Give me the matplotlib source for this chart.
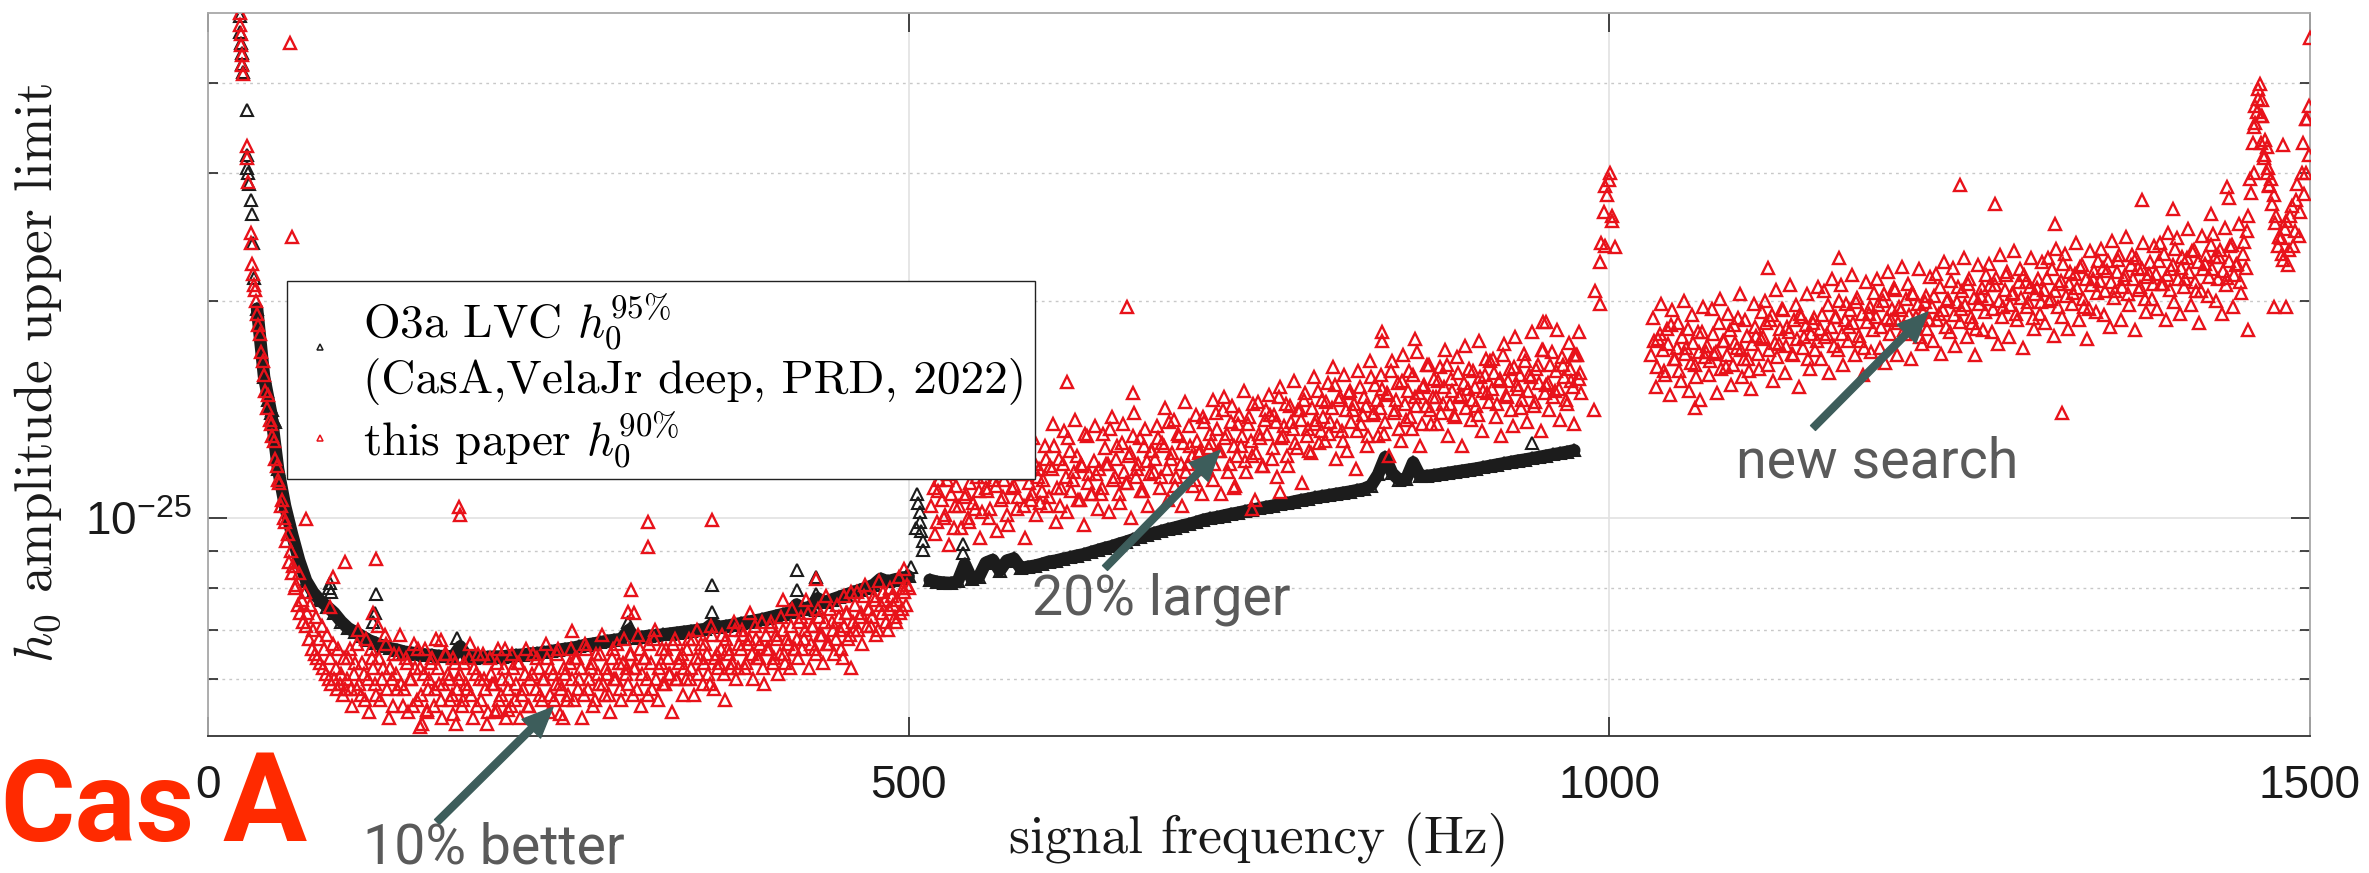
import numpy as np
import matplotlib
matplotlib.use("Agg")
import matplotlib.pyplot as plt
from matplotlib.lines import Line2D
from matplotlib.ticker import FixedLocator, FixedFormatter, NullFormatter

plt.rcParams["font.family"] = ["Liberation Sans", "DejaVu Sans"]
plt.rcParams["mathtext.fontset"] = "custom"
plt.rcParams["mathtext.rm"] = "Liberation Sans"
plt.rcParams["mathtext.it"] = "Liberation Sans:italic"
plt.rcParams["mathtext.bf"] = "Liberation Sans:bold"

# all strain values below are in units of 1e-27
UNIT = 1e-27

# ---- O3a LVC h0^95% (black), read every 5 Hz; gap 500-515 Hz ----
lvc_lo_f0 = 35
lvc_lo = [195, 157, 140, 117, 104, 95, 87.5, 82, 79, 77,
          75.5, 74, 72, 70.5, 69.6, 68.7, 67.8, 67.2, 66.6, 66.1,
          65.8, 65.4, 65.2, 65.0, 64.8, 64.7, 64.5, 64.5, 64.4, 66.5,
          64.3, 64.2, 64.3, 64.3, 64.4, 64.4, 64.6, 64.7, 64.8, 65.0,
          65.1, 65.3, 65.5, 65.8, 66.0, 66.2, 66.5, 66.9, 67.1, 67.4,
          67.7, 67.9, 68.1, 70.0, 68.4, 68.6, 68.8, 68.9, 69.1, 69.3,
          69.5, 69.7, 69.9, 70.1, 70.3, 71.5, 70.8, 71.0, 71.3, 71.6,
          71.9, 72.2, 72.5, 72.9, 73.3, 73.7, 74.1, 76.0, 75.0, 75.5,
          77.5, 76.6, 77.2, 77.8, 78.4, 79.0, 79.6, 80.2, 80.9, 82.5,
          81.8, 82.3, 82.7, 83.1]
lvc_hi_f0 = 515
lvc_hi = [82.2, 81.7, 81.5, 81.4, 81.8, 86.5, 82.4, 82.9, 86.8, 87.6,
          84.6, 87.4, 88.0, 85.3, 85.7, 86.0, 86.5, 87.1, 87.4, 87.9,
          88.3, 88.8, 89.2, 89.8, 90.4, 91.0, 91.5, 92.2, 92.8, 93.5,
          94.1, 94.8, 95.4, 96.0, 96.6, 97.1, 97.7, 98.2, 98.8, 99.5,
          100.0, 100.4, 100.9, 101.4, 101.8, 102.3, 102.8, 103.2, 103.7, 104.1,
          104.6, 105.0, 105.5, 106.0, 106.4, 106.9, 107.3, 107.7, 108.1, 108.5,
          108.9, 109.4, 109.9, 111.0, 115.0, 121.5, 115.5, 113.0, 113.3, 119.5,
          114.3, 114.5, 114.8, 115.2, 115.6, 116.0, 116.4, 116.8, 117.2, 117.7,
          118.2, 118.7, 119.2, 119.7, 120.2, 120.6, 121.1, 121.6, 122.1, 122.6,
          123.1, 123.6, 124.2]
# isolated O3a points: low-frequency wall and narrow lines
lvc_pts_f = [22.5, 23, 23.5, 24, 24.5, 25, 27.6, 27.8, 28, 28.5, 29, 31, 31.5, 32, 33,
             42, 43, 44, 46, 47, 48, 86, 87, 88, 118, 119, 120, 178, 300, 301,
             359.5, 359.5, 420, 420, 420, 434, 434, 434, 502, 505, 506, 507, 508,
             508, 509, 510, 510, 539, 539, 539, 945]
lvc_pts_h = [495, 470, 455, 440, 425, 415, 367, 318, 305, 300, 290, 276, 264, 240, 215,
             150, 146, 143, 141, 137, 136, 80, 81.5, 79, 72, 74, 78.5, 68.4, 72, 70.6,
             80.8, 74.2, 84.7, 79.5, 74.6, 82.9, 78.7, 74.6, 85.6, 97, 108, 105, 102,
             99, 96, 93, 90.5, 92.3, 89.5, 86, 127]

# ---- this paper h0^90% (red) ----
# 35-99 Hz, every 1 Hz
ul_a_f0 = 35
ul_a = [192, 185, 180, 170, 165, 158, 150, 142, 148, 137, 135, 130, 128, 121, 118, 113,
        112, 104, 106, 100, 99, 93, 95, 87, 90, 84, 86, 80, 81, 76, 84, 74, 77, 72, 79,
        71, 74, 68, 76, 66, 70, 65, 73, 64, 68, 63, 71, 62, 66, 61, 69, 60, 64, 59, 67,
        60, 62, 58, 66, 59, 61, 57, 64, 58, 60]
# 100-499 Hz, even and odd bins
ul_b_f0 = 100
ul_b = [64, 58, 61, 67, 59, 63, 56, 60, 66, 62, 57, 64, 60, 69, 58, 62, 55, 61, 65, 59,
        58, 63, 60, 55, 62, 66, 57, 61, 54, 60, 64, 58, 62, 56, 59, 65, 60, 57, 63, 58,
        61, 56, 59, 64, 57, 62, 55, 60, 65, 58, 54, 61, 59, 63, 56, 60, 66, 58, 55, 62,
        59, 63, 57, 61, 55, 60, 65, 58, 62, 56, 60, 64, 57, 61, 59, 66, 58, 62, 56, 63,
        60, 64, 58, 62, 57, 66, 60, 63, 56, 61, 65, 59, 62, 57, 64, 60, 67, 58, 63, 61,
        59, 65, 62, 58, 66, 61, 64, 57, 63, 68, 60, 62, 66, 59, 64, 61, 67, 60, 63, 65,
        62, 66, 60, 68, 64, 61, 67, 63, 65, 59, 69, 64, 62, 66, 61, 68, 65, 63, 70, 62,
        66, 69, 63, 68, 65, 71, 64, 67, 62, 69, 66, 72, 64, 68, 65, 70, 63, 67, 71, 66,
        68, 72, 66, 70, 74, 67, 71, 65, 73, 69, 72, 67, 75, 70, 68, 73, 66, 71, 74, 69,
        72, 76, 70, 74, 78, 71, 75, 73, 77, 70, 76, 79, 72, 75, 78, 73, 77, 74, 80, 76]
ul_b2_f0 = 101
ul_b2 = [66, 55, 63, 70, 57, 61, 68, 54, 64, 59, 71, 56, 62, 67, 53, 60, 65, 58, 69, 55,
         64, 54, 60, 67, 56, 62, 52, 66, 58, 63, 55, 68, 59, 53, 65, 61, 56, 64, 52, 60,
         55, 63, 58, 67, 53, 61, 65, 56, 60, 52, 64, 59, 54, 66, 57, 62, 53, 60, 65, 56,
         63, 53, 58, 66, 55, 61, 52, 64, 57, 60, 67, 54, 62, 56, 65, 59, 53, 61, 57, 66,
         56, 64, 60, 53, 67, 58, 62, 55, 65, 59, 69, 57, 61, 54, 66, 60, 63, 56, 68, 62,
         65, 57, 62, 69, 55, 64, 60, 67, 58, 70, 56, 63, 59, 66, 61, 54, 68, 60, 64, 57,
         60, 68, 62, 57, 70, 64, 59, 67, 61, 71, 58, 65, 63, 69, 56, 66, 62, 72, 60, 67,
         70, 62, 67, 74, 60, 68, 64, 72, 59, 66, 71, 63, 69, 61, 73, 65, 68, 62, 75, 66,
         64, 73, 68, 77, 62, 71, 66, 75, 69, 63, 78, 67, 72, 65, 76, 70, 64, 74, 68, 79,
         70, 79, 73, 67, 81, 75, 71, 78, 69, 82, 74, 77, 70, 80, 76, 72, 83, 75, 79, 81]
# 516-980 Hz, even and odd bins
ul_c_f0 = 516
ul_c = [104, 110, 99, 113, 106, 101, 115, 108, 97, 111, 104, 117, 107, 100, 112, 105, 118, 109, 102, 114,
        109, 103, 117, 111, 120, 106, 113, 101, 118, 110, 124, 107, 115, 104, 121, 112, 108, 119, 114, 105,
        113, 121, 107, 117, 126, 110, 104, 119, 114, 129, 109, 116, 122, 106, 118, 131, 112, 108, 120, 115,
        117, 110, 125, 119, 133, 113, 121, 108, 127, 116, 112, 123, 130, 114, 119, 109, 126, 120, 115, 124,
        121, 129, 114, 126, 117, 136, 123, 111, 131, 119, 127, 116, 134, 122, 113, 128, 124, 138, 118, 125,
        127, 119, 133, 124, 141, 129, 116, 136, 126, 122, 139, 130, 120, 135, 128, 144, 123, 131, 118, 137,
        131, 139, 125, 136, 147, 129, 134, 122, 143, 133, 127, 141, 137, 146, 130, 124, 142, 135, 150, 132,
        138, 145, 131, 142, 153, 134, 147, 128, 141, 149, 136, 144, 132, 152, 139, 143, 130, 157, 140, 146,
        142, 151, 136, 148, 160, 140, 146, 133, 155, 144, 150, 138, 158, 143, 149, 135, 153, 163, 141, 147,
        147, 155, 140, 152, 163, 144, 150, 138, 159, 148, 154, 142, 161, 146, 152, 139, 157, 150, 166, 145,
        151, 159, 144, 156, 168, 148, 155, 141, 162, 153, 158, 146, 165, 150, 157, 143, 161, 154, 171, 149,
        154, 163, 147, 160, 151, 167, 157, 144, 161, 152, 168, 156, 149]
ul_c2_f0 = 517
ul_c2 = [118, 95, 109, 124, 100, 113, 92, 120, 104, 116, 97, 126, 108, 99, 121, 103, 114, 94, 119, 110,
         100, 124, 113, 96, 128, 107, 119, 98, 130, 111, 103, 126, 115, 94, 122, 106, 129, 101, 117, 109,
         126, 104, 118, 135, 99, 121, 110, 132, 102, 124, 113, 137, 106, 119, 98, 130, 115, 108, 134, 103,
         108, 131, 119, 102, 138, 114, 126, 105, 135, 112, 122, 100, 140, 117, 129, 109, 133, 104, 124, 116,
         134, 110, 127, 142, 106, 121, 137, 114, 130, 104, 145, 119, 126, 111, 139, 123, 108, 136, 117, 131,
         113, 140, 124, 108, 147, 131, 119, 143, 111, 135, 126, 150, 116, 138, 122, 106, 145, 129, 118, 141,
         148, 121, 139, 114, 152, 130, 144, 118, 136, 155, 125, 141, 112, 149, 133, 123, 157, 137, 127, 146,
         128, 154, 136, 162, 121, 146, 132, 158, 124, 150, 141, 117, 160, 135, 147, 126, 165, 139, 153, 130,
         158, 131, 149, 122, 165, 141, 154, 128, 168, 137, 160, 133, 147, 170, 126, 152, 143, 163, 135, 156,
         135, 162, 144, 171, 130, 156, 139, 167, 147, 126, 173, 151, 137, 160, 143, 176, 132, 158, 149, 165,
         166, 138, 155, 130, 174, 147, 161, 134, 178, 151, 142, 169, 136, 158, 181, 145, 163, 132, 171, 153,
         141, 170, 150, 182, 137, 163, 146, 175, 155, 135, 168, 159]
# 1030-1500 Hz, even and odd bins
ul_d_f0 = 1030
ul_d = [168, 176, 162, 180, 171, 158, 174, 185, 166, 172, 160, 178, 169, 183, 164, 175, 157, 170, 181, 167,
        173, 165, 180, 170, 186, 161, 176, 168, 182, 163, 175, 189, 171, 166, 179, 160, 174, 184, 169, 177,
        178, 186, 171, 191, 175, 167, 183, 194, 173, 181, 169, 188, 177, 192, 172, 185, 166, 180, 189, 176,
        183, 191, 178, 197, 184, 173, 190, 200, 180, 188, 176, 194, 186, 199, 179, 192, 172, 187, 196, 182,
        190, 197, 184, 204, 189, 180, 195, 207, 186, 194, 182, 201, 191, 205, 185, 198, 178, 193, 203, 188,
        196, 203, 188, 209, 194, 184, 201, 213, 191, 199, 187, 206, 197, 211, 190, 202, 183, 198, 208, 193,
        201, 210, 195, 215, 200, 190, 207, 219, 197, 205, 192, 212, 202, 217, 196, 209, 189, 204, 214, 199,
        207, 215, 200, 221, 206, 196, 213, 225, 203, 211, 198, 218, 208, 223, 201, 214, 195, 210, 220, 205,
        213, 222, 206, 227, 212, 202, 219, 231, 209, 217, 204, 224, 214, 229, 207, 221, 201, 216, 226, 211,
        218, 227, 211, 232, 217, 207, 224, 236, 214, 222, 209, 229, 219, 234, 212, 226, 206, 221, 231, 216,
        221, 230, 214, 235, 220, 210, 227, 239, 217, 225, 212, 232, 222,
        262, 282, 348, 365, 399, 379, 334, 305, 295, 280, 262, 245,
        232, 251, 224, 262, 238, 276, 246, 300, 281, 357, 461]
ul_d2_f0 = 1031
ul_d2 = [189, 152, 177, 198, 160, 183, 148, 194, 166, 186, 155, 200, 172, 150, 191, 163, 181, 146, 196, 170,
         158, 195, 169, 149, 201, 176, 162, 192, 153, 185, 172, 204, 157, 188, 166, 151, 198, 179, 161, 193,
         200, 163, 188, 155, 207, 174, 195, 159, 184, 210, 168, 197, 152, 190, 178, 204, 161, 186, 171, 209,
         166, 206, 180, 159, 214, 190, 171, 210, 163, 198, 184, 217, 168, 202, 176, 158, 212, 192, 170, 205,
         214, 172, 200, 164, 219, 188, 208, 168, 196, 223, 180, 211, 166, 204, 190, 221, 174, 199, 183, 216,
         176, 218, 192, 169, 226, 200, 181, 222, 173, 209, 195, 229, 178, 214, 186, 168, 224, 203, 182, 217,
         225, 181, 210, 174, 231, 196, 217, 178, 204, 234, 188, 221, 172, 212, 199, 229, 183, 208, 192, 226,
         186, 229, 201, 179, 236, 211, 190, 232, 183, 219, 205, 240, 188, 224, 196, 177, 234, 214, 193, 227,
         236, 191, 220, 184, 242, 206, 228, 188, 214, 245, 197, 231, 182, 222, 209, 240, 193, 218, 201, 238,
         195, 240, 211, 188, 248, 221, 199, 244, 192, 230, 214, 251, 197, 235, 206, 186, 246, 225, 203, 239,
         247, 200, 230, 192, 252, 215, 238, 196, 224, 255, 205, 241,
         250, 295, 330, 372, 392, 360, 318, 300, 288, 272, 256, 238,
         244, 228, 258, 235, 270, 250, 290, 265, 330, 300, 372]
# scattered red points: low-frequency wall, outliers, 1000 Hz line
ul_pts_f = [22.8, 23, 23.3, 23.8, 24.2, 24.6, 25, 27.6, 28, 28.5, 30.5, 31, 31.5, 32, 32.5, 33.5, 34,
            58.5, 59.7, 69.8, 89, 98, 120, 106, 151, 156, 175, 206, 214, 251, 166, 179, 180, 260,
            300, 302, 304, 314, 314, 359.5, 410, 434, 454, 459, 118, 87, 497, 500,
            656, 613, 660, 717, 838, 838, 861, 765, 745, 732, 955, 978, 975, 953,
            989, 990, 993, 993, 994, 996, 997, 997, 998.5, 1000.5, 1002, 1002, 1004, 1000,
            1061, 1113, 1164, 1250, 1275, 1323, 1380, 1318, 1402, 1429, 1441, 1442, 1456,
            1474, 1483, 1481, 1497, 1499, 1461, 1463, 1465, 1467, 1469, 1471, 1460, 1466]
ul_pts_h = [500, 482, 468, 452, 437, 424, 412, 327, 315, 292, 248, 240, 225, 218, 210, 207, 200,
            455, 245, 99.8, 82.9, 86.9, 87.9, 58.1, 51.4, 54.3, 53.7, 54.3, 54.3, 53.7, 67.8, 103.7, 101, 69.8,
            74.2, 79.5, 74.0, 98.7, 91.3, 99.4, 77.0, 82.5, 78.0, 62.0, 74.0, 75.5, 85, 80,
            196, 154.6, 149, 146, 181, 176, 177, 108.8, 103, 110, 187, 181, 168, 187,
            141, 206, 198, 226, 240, 265, 288, 238, 280, 300, 262, 258, 237, 294,
            142, 222, 229, 289, 272, 140, 276, 255, 268, 264, 287, 277, 182,
            196, 196, 328, 357, 318, 352, 380, 330, 315, 326, 289, 300, 360]

# axis / tick labels
x_ticks = [0, 500, 1000, 1500]
y_major = [1e-25]
y_major_labels = [r"10$^{-25}$"]
y_minor = [6e-26, 7e-26, 8e-26, 9e-26, 2e-25, 3e-25, 4e-25]


def grid_f(f0, step, vals):
    return f0 + step * np.arange(len(vals))


BLACK = "#1c1c1c"
RED = "#e8121a"
ARROW = "#3d5d5b"
NOTE = "#5a5a5a"
CM = "cmr10"

fig = plt.figure(figsize=(23.69, 8.73), dpi=100)
ax = fig.add_axes([208 / 2369, 137 / 873, 2102 / 2369, 723 / 873])
ax.set_yscale("log")

lvc_style = dict(ls="none", marker="^", ms=8, mfc="none", mec=BLACK, mew=1.5, zorder=2)
for f0, vals in [(lvc_lo_f0, lvc_lo), (lvc_hi_f0, lvc_hi)]:
    f = grid_f(f0, 5, vals)
    h = np.array(vals) * UNIT
    ax.plot(f, h, color=BLACK, lw=9, solid_capstyle="round", solid_joinstyle="round", zorder=2)
    ax.plot(f, h, **lvc_style)
ax.plot(lvc_pts_f, np.array(lvc_pts_h) * UNIT, **lvc_style)

ul_style = dict(ls="none", marker="^", ms=8, mfc="none", mec=RED, mew=1.7, zorder=3)
ax.plot(grid_f(ul_a_f0, 1, ul_a), np.array(ul_a) * UNIT, **ul_style)
for f0, vals in [(ul_b_f0, ul_b), (ul_b2_f0, ul_b2), (ul_c_f0, ul_c),
                 (ul_c2_f0, ul_c2), (ul_d_f0, ul_d), (ul_d2_f0, ul_d2)]:
    ax.plot(grid_f(f0, 2, vals), np.array(vals) * UNIT, **ul_style)
ax.plot(ul_pts_f, np.array(ul_pts_h) * UNIT, **ul_style)

ax.set_xlim(0, 1500)
ax.set_ylim(5e-26, 5e-25)
ax.xaxis.set_major_locator(FixedLocator(x_ticks))
ax.yaxis.set_major_locator(FixedLocator(y_major))
ax.yaxis.set_major_formatter(FixedFormatter(y_major_labels))
ax.yaxis.set_minor_locator(FixedLocator(y_minor))
ax.yaxis.set_minor_formatter(NullFormatter())
ax.grid(True, which="major", color="#e2e2e2", lw=1.2, ls="-", zorder=0)
ax.grid(True, which="minor", axis="y", color="#c8c8c8", lw=1.0, ls=(0, (2, 3)), zorder=0)
ax.set_axisbelow(True)

ax.tick_params(which="both", direction="in", top=True, right=True,
               color="#262626", labelcolor="#1a1a1a", width=1.2)
ax.tick_params(which="major", length=14)
ax.tick_params(which="minor", length=7)
ax.tick_params(axis="x", labelsize=33, pad=20)
ax.tick_params(axis="y", labelsize=33, pad=12)
for side in ["top", "right", "left"]:
    ax.spines[side].set_color("#a8a8a8")
ax.spines["bottom"].set_color("#333333")
for s in ax.spines.values():
    s.set_linewidth(1.3)

ylab = ax.set_ylabel(r"$h_0$ amplitude upper limit", fontsize=39, family=CM,
                     math_fontfamily="cm", color="#1a1a1a")
ax.yaxis.set_label_coords(-0.0685, 0.502)
xlab = ax.set_xlabel("signal frequency (Hz)", fontsize=38, family=CM, color="#1a1a1a")
ax.xaxis.set_label_coords(0.5, -0.107)

# legend
hd1 = Line2D([], [], ls="none", marker="^", ms=4.5, mfc="none", mec=BLACK, mew=1.1)
hd2 = Line2D([], [], ls="none", marker="^", ms=4.5, mfc="none", mec=RED, mew=1.1)
lab1 = "O3a LVC $h_0^{95\\%}$\n(CasA,VelaJr deep, PRD, 2022)"
lab2 = "this paper $h_0^{90\\%}$"
leg = ax.legend([hd1, hd2], [lab1, lab2], loc="upper left",
                bbox_to_anchor=(0.0376, 0.629), borderaxespad=0,
                prop={"family": CM, "size": 34}, frameon=True, fancybox=False,
                framealpha=1, edgecolor="#222222", handlelength=1.0,
                handletextpad=0.4, borderpad=0.2, labelspacing=0.1)
leg.get_frame().set_linewidth(1.0)
leg.set_zorder(5)
for t in leg.get_texts():
    t.set_math_fontfamily("cm")

# annotations
arrow = dict(arrowstyle="simple,head_length=2.2,head_width=1.9,tail_width=0.5",
             color=ARROW, mutation_scale=10, shrinkA=0, shrinkB=0)
notes = [
    ("10% better", (246.2, 5.48e-26), (437, 51), (363, 10)),
    ("20% larger", (722.2, 1.242e-25), (1105, 305), (1032, 258)),
    ("new search", (1227.4, 1.929e-25), (1813, 445), (1736, 396)),
]
sans = ["Roboto", "DejaVu Sans"]
for txt, tip, tail, pos in notes:
    ax.annotate("", xy=tip, xycoords="data",
                xytext=(tail[0] / 2369, tail[1] / 873), textcoords="figure fraction",
                arrowprops=arrow, annotation_clip=False, zorder=6)
    fig.text(pos[0] / 2369, pos[1] / 873, txt, fontsize=40, family=sans,
             color=NOTE, ha="left", va="baseline")

fig.text(0.5 / 2369, 32 / 873, "Cas", fontsize=82, family=sans, weight="bold",
         color="#ff2a00", ha="left", va="baseline")
fig.text(223 / 2369, 32 / 873, "A", fontsize=90, family=sans, weight="bold",
         color="#ff2a00", ha="left", va="baseline")

# fit axis-label lengths to the reference (x label ~500 px wide, y label ~580 px tall)
fig.canvas.draw()
r = fig.canvas.get_renderer()
xlab.set_fontsize(xlab.get_fontsize() * 500 / xlab.get_window_extent(r).width)
ylab.set_fontsize(ylab.get_fontsize() * 580 / ylab.get_window_extent(r).height)

fig.savefig("out.png", dpi=100, facecolor="white")
